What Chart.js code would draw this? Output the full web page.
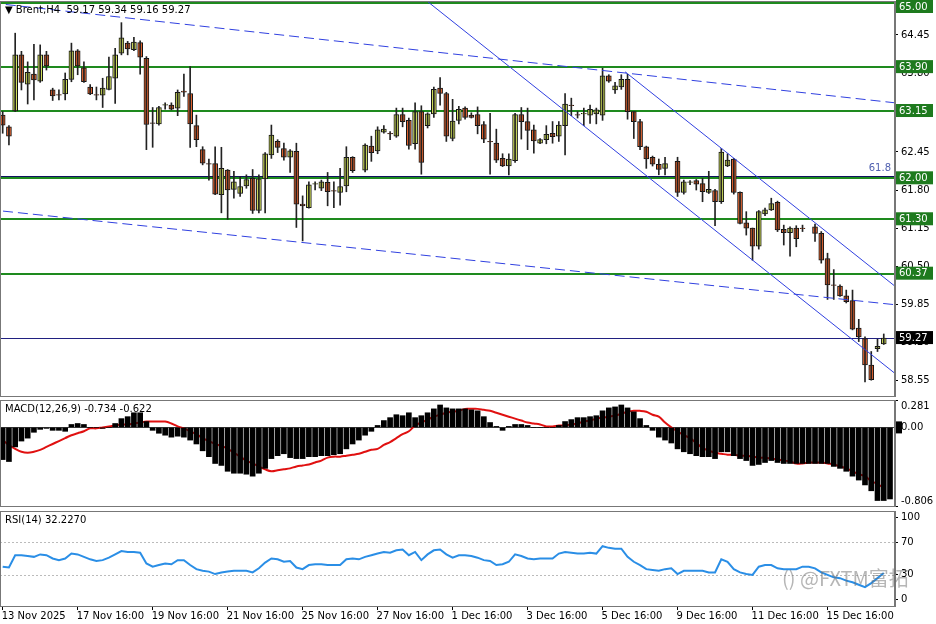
<!DOCTYPE html>
<html>
<head>
<meta charset="utf-8">
<script src="https://cdn.jsdelivr.net/npm/chart.js@4.4.0/dist/chart.umd.min.js"></script>
<style>
  body { margin: 0; background: #fff; }
  #wrap { position: relative; width: 936px; height: 624px; overflow: hidden; }
  canvas { position: absolute; left: 0; }
</style>
</head>
<body>
<div id="wrap">
  <canvas id="priceChart" width="936" height="397" style="top:0"></canvas>
  <canvas id="macdChart" width="936" height="112" style="top:397px"></canvas>
  <canvas id="rsiChart" width="936" height="115" style="top:509px"></canvas>
</div>
<script>
// Brent H4 candles [open, high, low, close], null = empty slot
const candles = [
  [63.08,63.14,62.77,62.91],[62.88,62.90,62.57,62.72],[63.15,64.48,63.14,64.11],[64.11,64.17,63.51,63.64],
  [63.61,63.99,63.27,63.81],[63.78,64.29,63.34,63.68],[63.66,64.28,63.64,64.11],[64.11,64.17,63.85,63.92],
  [63.51,63.54,63.33,63.41],[63.43,63.51,63.34,63.42],[63.44,63.80,63.34,63.69],[63.69,64.31,63.65,64.18],
  [64.18,64.20,63.77,63.92],[63.89,63.99,63.64,63.65],[63.56,63.60,63.43,63.44],[63.43,63.56,63.34,63.42],
  [63.42,63.71,63.21,63.54],[63.52,64.07,63.51,63.74],[63.71,64.22,63.28,64.11],[64.14,64.66,64.11,64.40],
  [64.31,64.34,64.11,64.21],[64.20,64.41,64.18,64.33],[64.32,64.35,63.78,64.07],[64.05,64.08,62.49,62.92],
  [62.95,63.21,62.53,62.94],[62.93,63.23,62.91,63.21],[63.25,63.29,63.18,63.26],[63.25,63.29,63.17,63.18],
  [63.20,63.51,63.07,63.47],[63.49,63.78,63.40,63.47],[63.45,63.91,62.53,62.93],[62.90,63.08,62.54,62.66],
  [62.49,62.54,62.23,62.26],[62.25,62.33,61.97,62.24],[62.25,62.54,61.72,61.73],[61.72,62.53,61.41,62.17],
  [62.14,62.15,61.30,61.80],[61.81,62.12,61.66,61.94],[61.74,62.03,61.69,61.86],[61.87,62.06,61.83,61.98],
  [62.00,62.15,61.40,61.45],[61.45,62.06,61.41,61.99],[61.99,62.44,61.41,62.42],[62.40,62.91,62.34,62.74],
  [62.63,62.66,62.44,62.53],[62.51,62.60,62.31,62.36],[62.36,62.49,62.10,62.47],[62.46,62.60,61.16,61.56],
  [61.56,61.70,60.93,61.53],[61.50,61.94,61.49,61.89],[61.90,61.94,61.80,61.91],[61.83,61.97,61.79,61.94],
  [61.93,62.10,61.53,61.77],[61.79,61.94,61.50,61.78],[61.76,62.17,61.54,61.86],[61.87,62.54,61.77,62.36],
  [62.36,62.37,62.10,62.13],null,
  [62.14,62.59,62.11,62.57],[62.55,62.72,62.29,62.44],[62.47,62.88,62.42,62.83],[62.79,62.90,62.77,62.84],
  [62.77,62.80,62.66,62.76],[62.72,63.20,62.70,63.09],[63.09,63.20,62.88,62.97],[62.99,63.03,62.50,62.56],
  [62.59,63.29,62.50,63.14],[63.14,63.24,62.07,62.27],[62.90,63.12,62.86,63.10],[63.10,63.56,63.04,63.52],
  [63.54,63.72,63.25,63.45],[63.45,63.47,62.63,62.72],[62.68,63.35,62.64,62.98],[62.99,63.23,62.93,63.18],
  [63.20,63.22,63.01,63.04],[63.08,63.12,63.03,63.04],[63.09,63.22,62.76,62.90],[62.92,62.97,62.61,62.67],
  [62.63,63.11,62.07,62.62],[62.60,62.84,62.27,62.31],[62.34,62.42,62.20,62.21],[62.21,62.42,62.06,62.33],
  [62.30,63.11,62.27,63.09],[63.09,63.21,62.67,62.97],[62.97,63.20,62.49,62.82],[62.83,62.91,62.43,62.64],
  [62.60,62.68,62.59,62.66],[62.66,62.90,62.59,62.75],[62.77,62.97,62.60,62.71],[62.72,62.97,62.63,62.91],
  [62.90,63.45,62.40,63.27],[63.25,63.37,63.07,63.24],[63.09,63.14,63.03,63.08],[63.10,63.20,62.90,63.11],
  [63.08,63.25,62.94,63.18],[63.10,63.20,62.93,63.17],[63.08,63.88,62.99,63.75],[63.75,63.77,63.64,63.66],
  [63.51,63.64,63.45,63.58],[63.56,63.77,63.52,63.69],[63.69,63.78,63.01,63.14],[63.14,63.14,62.68,62.97],
  [62.97,63.01,62.49,62.54],[62.54,62.55,62.17,62.33],[62.36,62.38,62.21,62.24],[62.24,62.33,62.06,62.15],
  [62.17,62.36,62.06,62.25],null,
  [62.29,62.36,61.69,61.76],[61.76,61.97,61.73,61.94],[61.93,61.96,61.89,61.93],[61.96,61.98,61.80,61.90],
  [61.91,62.00,61.60,61.77],[61.76,62.12,61.74,61.81],[61.79,61.81,61.19,61.60],[61.60,62.51,61.57,62.45],
  [62.21,62.42,62.20,62.31],[62.33,62.34,61.73,61.76],[61.76,61.77,61.22,61.23],[61.24,61.43,61.03,61.15],
  [61.15,61.15,60.60,60.84],[60.84,61.45,60.79,61.43],[61.39,61.49,61.36,61.46],[61.46,61.66,61.45,61.57],
  [61.59,61.61,61.09,61.12],[61.13,61.20,60.86,61.07],[61.07,61.17,60.67,61.15],[61.15,61.19,60.83,60.97],
  [61.15,61.20,61.09,61.14],null,
  [61.17,61.22,60.92,61.06],[61.06,61.09,60.55,60.60],[60.63,60.72,59.93,60.18],[60.18,60.44,59.93,60.17],
  [60.16,60.18,59.98,59.99],[59.99,60.09,59.87,59.89],[59.91,60.09,59.41,59.42],[59.44,59.59,59.21,59.29],
  [59.26,59.29,58.52,58.81],[58.81,59.04,58.55,58.56],[59.09,59.25,59.04,59.13],[59.17,59.34,59.16,59.27]
];

// MACD histogram and signal line, one value per slot
const macdHist = [
  -0.33,-0.35,-0.20,-0.14,-0.11,-0.05,-0.02,-0.01,-0.03,-0.03,
  -0.04,0.03,0.04,0.03,0.00,0.00,-0.01,0.00,0.04,0.09,
  0.11,0.15,0.15,0.06,-0.03,-0.06,-0.08,-0.10,-0.09,-0.10,
  -0.13,-0.17,-0.24,-0.30,-0.37,-0.39,-0.45,-0.47,-0.47,-0.48,
  -0.50,-0.47,-0.42,-0.32,-0.29,-0.27,-0.31,-0.32,-0.32,-0.30,
  -0.30,-0.29,-0.29,-0.28,-0.27,-0.22,-0.17,-0.13,-0.08,-0.04,
  0.02,0.07,0.10,0.13,0.12,0.15,0.10,0.12,0.15,0.19,
  0.23,0.20,0.19,0.19,
  0.19,0.18,0.17,0.11,0.05,0.01,-0.03,0.01,0.03,0.03,
  0.02,0.00,0.00,0.00,0.00,0.02,0.06,0.08,0.10,0.10,
  0.11,0.12,0.17,0.20,0.21,0.23,0.20,0.16,0.09,0.02,
  -0.03,-0.10,-0.13,-0.16,-0.22,-0.25,-0.27,-0.29,-0.30,-0.30,
  -0.32,-0.25,-0.25,-0.29,-0.32,-0.34,-0.39,-0.38,-0.36,-0.34,
  -0.36,-0.37,-0.37,-0.37,-0.37,-0.37,-0.37,-0.37,-0.37,
  -0.40,-0.42,-0.45,-0.50,-0.54,-0.59,-0.65,-0.75,-0.75,-0.734
];
const macdSignal = [
  -0.13,-0.18,-0.22,-0.25,-0.26,-0.25,-0.23,-0.20,-0.17,-0.14,
  -0.11,-0.08,-0.06,-0.04,-0.01,-0.01,0.00,0.01,0.02,0.03,
  0.03,0.04,0.05,0.06,0.06,0.06,0.06,0.04,0.01,-0.01,
  -0.04,-0.07,-0.11,-0.14,-0.17,-0.19,-0.22,-0.26,-0.30,-0.34,
  -0.37,-0.40,-0.43,-0.45,-0.44,-0.43,-0.42,-0.40,-0.39,-0.38,
  -0.36,-0.34,-0.31,-0.30,-0.30,-0.29,-0.28,-0.27,-0.25,-0.23,
  -0.22,-0.18,-0.15,-0.11,-0.07,-0.04,0.02,0.05,0.08,0.11,
  0.13,0.15,0.16,0.17,0.19,0.19,0.19,0.18,0.17,0.15,
  0.13,0.11,0.09,0.07,0.05,0.04,0.03,0.01,0.01,0.02,
  0.02,0.03,0.04,0.06,0.07,0.09,0.10,0.11,0.12,0.14,
  0.16,0.17,0.17,0.16,0.13,0.11,0.05,0.00,-0.04,-0.08,
  -0.11,-0.16,-0.21,-0.24,-0.26,-0.27,-0.28,-0.28,-0.29,-0.29,
  -0.30,-0.31,-0.31,-0.32,-0.33,-0.34,-0.35,-0.37,-0.37,-0.36,
  -0.36,-0.36,-0.37,-0.38,-0.40,-0.42,-0.45,-0.48,-0.50,-0.55,
  -0.58,-0.622
];
// RSI(14), one value per slot
const rsiValues = [
  40,39,54,54,53,52,55,54,50,48,50,56,55,52,49,47,48,51,55,59,
  58,58,57,44,40,42,44,43,48,48,42,37,35,34,31,33,34,35,35,35,
  33,38,45,50,49,46,47,39,37,42,43,43,42,42,42,49,50,49,52,54,
  56,58,57,60,61,54,58,48,55,60,61,55,51,54,
  54,53,51,48,47,42,43,46,55,53,50,49,50,50,50,56,58,57,56,56,
  57,56,65,63,62,62,52,46,42,37,36,35,37,38,31,35,35,35,35,33,
  33,49,46,37,33,31,30,40,42,42,38,37,37,37,40,40,38,33,30,27,
  26,23,21,18,15,20,26,32.227
];

// axis ticks and labels
const priceTicks = [58.55, 59.20, 59.85, 60.50, 61.15, 61.80, 62.45, 63.15, 63.80, 64.45];
const levelPrices = [65.00, 63.90, 63.15, 62.00, 61.30, 60.37];
const lastPrice = 59.27;
const macdTicks = [-0.806, 0, 0.281];
const rsiTicks = [0, 30, 70, 100];
const dateSlots = [1, 13, 25, 37, 49, 61, 73, 85, 97, 109, 121, 133];
const dateLabels = ['13 Nov 2025', '17 Nov 16:00', '19 Nov 16:00', '21 Nov 16:00', '25 Nov 16:00',
  '27 Nov 16:00', '1 Dec 16:00', '3 Dec 16:00', '5 Dec 16:00', '9 Dec 16:00', '11 Dec 16:00', '15 Dec 16:00'];

// trend lines: [slot, price] endpoints
const dashUpper = [[1.5, 64.97], [143.8, 63.29]];
const dashLower = [[1.05, 61.44], [143.8, 59.84]];
const channelLow = [[69.0, 65.02], [144.1, 58.64]];
const channelHigh = [[100.6, 63.82], [144.1, 60.13]];

const X_MIN = 0.57, X_MAX = 143.8;
const FONT = '"DejaVu Sans", sans-serif';
Chart.defaults.font.family = FONT;
Chart.defaults.font.size = 10;
Chart.defaults.color = '#000';
Chart.defaults.animation = false;

function xScale(show) {
  const s = {
    type: 'linear', min: X_MIN, max: X_MAX, display: show, offset: false,
    grid: { drawOnChartArea: false, tickLength: 4, color: '#000', offset: false },
    border: { color: '#777' },
    ticks: { display: false },
    afterBuildTicks: s => { s.ticks = dateSlots.map(v => ({ value: v })); }
  };
  if (show) s.afterFit = sc => { sc.height = 18; };
  return s;
}

function yScale(min, max, ticks) {
  return {
    type: 'linear', position: 'right', min: min, max: max,
    grid: { drawOnChartArea: false, tickLength: 3, color: '#000' },
    border: { color: '#777' },
    ticks: { display: false },
    afterBuildTicks: s => { s.ticks = ticks.map(v => ({ value: v })); },
    afterFit: s => { s.width = 41; }
  };
}

function frame(chart) {
  const a = chart.chartArea, c = chart.ctx;
  c.save();
  c.strokeStyle = '#777';
  c.lineWidth = 1;
  c.strokeRect(a.left + 0.5, a.top + 0.5, a.width - 1, a.height);
  c.restore();
}

function caption(chart, text) {
  const c = chart.ctx;
  c.save();
  c.font = '10px ' + FONT;
  c.fillStyle = '#000';
  c.textBaseline = 'middle';
  c.textAlign = 'left';
  c.fillText(text, chart.chartArea.left + 5, chart.chartArea.top + 9);
  c.restore();
}

function tag(c, x, y, text, bg) {
  y = Math.max(y, 7);
  c.fillStyle = bg;
  c.fillRect(x, y - 7, 37, 13);
  c.fillStyle = '#fff';
  c.textBaseline = 'middle';
  c.textAlign = 'left';
  c.fillText(text, x + 3, y);
}

function axisLabels(chart, values, fmt) {
  const c = chart.ctx, a = chart.chartArea, y = chart.scales.y;
  c.save();
  c.font = '10px ' + FONT;
  c.fillStyle = '#000';
  c.textBaseline = 'middle';
  c.textAlign = 'left';
  values.forEach(v => {
    const py = Math.min(Math.max(y.getPixelForValue(v), a.top + 6), a.bottom - 5);
    c.fillText(fmt(v), a.right + 6, py);
  });
  c.restore();
}

const decor = {
  id: 'decor',
  beforeDatasetsDraw(chart, args, opts) {
    const c = chart.ctx, a = chart.chartArea, y = chart.scales.y;
    c.save();
    if (opts.kind === 'price') {
      levelPrices.forEach(p => {
        const py = Math.round(y.getPixelForValue(p));
        if (p === 62.00) {
          c.fillStyle = '#101060';
          c.fillRect(a.left, py - 2, a.width, 1.5);
        }
        c.fillStyle = '#1e8a1e';
        c.fillRect(a.left, py - 1, a.width, 2);
      });
      c.fillStyle = '#202080';
      c.fillRect(a.left, Math.round(y.getPixelForValue(lastPrice)), a.width, 1);
    } else if (opts.kind === 'macd') {
      c.fillStyle = '#444';
      c.fillRect(a.left, Math.round(y.getPixelForValue(0)), a.width, 1);
    } else {
      c.strokeStyle = '#bbb';
      c.setLineDash([2, 2]);
      [30, 70].forEach(v => {
        const py = Math.round(y.getPixelForValue(v)) + 0.5;
        c.beginPath(); c.moveTo(a.left, py); c.lineTo(a.right, py); c.stroke();
      });
    }
    c.restore();
  },
  afterDraw(chart, args, opts) {
    const c = chart.ctx, a = chart.chartArea, y = chart.scales.y;
    frame(chart);
    c.save();
    c.font = '10px ' + FONT;
    if (opts.kind === 'price') {
      caption(chart, '\u25BC Brent,H4  59.17 59.34 59.16 59.27');
      axisLabels(chart, priceTicks, v => v.toFixed(2));
      c.fillStyle = '#5060b0';
      c.textAlign = 'right';
      c.fillText('61.8', a.right - 4, y.getPixelForValue(62.00) - 7);
      levelPrices.forEach(p => tag(c, a.right + 1, y.getPixelForValue(p), p.toFixed(2), '#1e7a1e'));
      tag(c, a.right + 1, y.getPixelForValue(lastPrice), lastPrice.toFixed(2), '#000');
    } else if (opts.kind === 'macd') {
      caption(chart, 'MACD(12,26,9) -0.734 -0.622');
      axisLabels(chart, macdTicks, v => v === 0 ? '0.00' : v.toFixed(3));
      c.fillStyle = '#000';
      c.fillRect(a.right + 1, y.getPixelForValue(0) - 6, 6, 12);
    } else {
      caption(chart, 'RSI(14) 32.2270');
      axisLabels(chart, rsiTicks, v => String(v));
      const x = chart.scales.x;
      c.fillStyle = '#000';
      c.textBaseline = 'middle';
      c.textAlign = 'left';
      dateSlots.forEach((v, i) => {
        c.fillText(dateLabels[i], Math.max(1, x.getPixelForValue(v) - 1), a.bottom + 10);
      });
      c.font = '20px "Noto Sans CJK SC", sans-serif';
      c.fillStyle = 'rgba(110,110,110,0.5)';
      c.fillText('() @FXTM富拓', a.right - 113, a.bottom - 28);
    }
    c.restore();
  }
};
Chart.register(decor);

// build candle datasets from the named data
const wickData = [], bullData = [], bearData = [];
candles.forEach((k, i) => {
  if (!k) return;
  const slot = i + 1;
  const [o, h, l, c] = k;
  wickData.push({ x: slot, y: [l, h] });
  if (c >= o) bullData.push({ x: slot, y: [o, c === o ? o + 0.01 : c] });
  else bearData.push({ x: slot, y: [c, o] });
});

function trend(points, dashed) {
  return {
    type: 'line', data: points.map(p => ({ x: p[0], y: p[1] })),
    borderColor: '#3040e0', borderWidth: 1, pointRadius: 0,
    borderDash: dashed ? [10, 5] : []
  };
}

function barSet(data, fill, thick, border) {
  return {
    type: 'bar', data: data, backgroundColor: fill, borderColor: '#111',
    borderWidth: border, borderSkipped: false, barThickness: thick, grouped: false
  };
}

const baseOpts = kind => ({
  responsive: false,
  devicePixelRatio: 1,
  plugins: { legend: { display: false }, tooltip: { enabled: false }, decor: { kind: kind } }
});

new Chart(document.getElementById('priceChart'), {
  type: 'bar',
  data: {
    datasets: [
      trend(dashUpper, true), trend(dashLower, true),
      trend(channelLow, false), trend(channelHigh, false),
      barSet(wickData, '#222', 1, 0),
      barSet(bullData, '#d2e05c', 5, 1),
      barSet(bearData, '#e2632f', 5, 1)
    ]
  },
  options: Object.assign(baseOpts('price'), {
    layout: { padding: { top: 1, bottom: 1, left: 0, right: 0 } },
    scales: { x: xScale(false), y: yScale(58.28, 65.03, priceTicks) }
  })
});

new Chart(document.getElementById('macdChart'), {
  type: 'bar',
  data: {
    datasets: [
      {
        type: 'bar', data: macdHist.map((v, i) => ({ x: i + 1, y: v })),
        backgroundColor: '#000', barThickness: 5, grouped: false
      },
      {
        type: 'line', data: macdSignal.map((v, i) => ({ x: i + 1, y: v })),
        borderColor: '#e01010', borderWidth: 2, pointRadius: 0, tension: 0.4
      }
    ]
  },
  options: Object.assign(baseOpts('macd'), {
    layout: { padding: { top: 3, bottom: 3 } },
    scales: { x: xScale(false), y: yScale(-0.806, 0.281, macdTicks) }
  })
});

new Chart(document.getElementById('rsiChart'), {
  type: 'line',
  data: {
    datasets: [{
      data: rsiValues.map((v, i) => ({ x: i + 1, y: v })),
      borderColor: '#2a8ee6', borderWidth: 2, pointRadius: 0, tension: 0
    }]
  },
  options: Object.assign(baseOpts('rsi'), {
    layout: { padding: { top: 2 } },
    scales: { x: xScale(true), y: yScale(-8, 108, rsiTicks) }
  })
});
</script>
</body>
</html>
